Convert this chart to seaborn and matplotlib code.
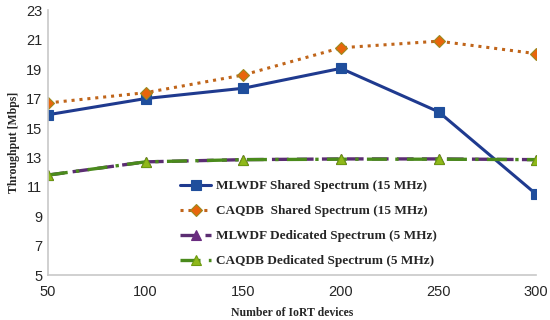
import numpy as np
import pandas as pd
import matplotlib
matplotlib.use("Agg")
import matplotlib.pyplot as plt
import seaborn as sns

devices = [50, 100, 150, 200, 250, 300]
mlwdf_shared = [15.9, 17.0, 17.7, 19.05, 16.1, 10.5]
caqdb_shared = [16.7, 17.4, 18.6, 20.45, 20.9, 20.05]
mlwdf_dedicated = [11.8, 12.7, 12.85, 12.9, 12.9, 12.85]
caqdb_dedicated = [11.8, 12.7, 12.85, 12.88, 12.88, 12.85]

labels = ["MLWDF Shared Spectrum (15 MHz)",
          "CAQDB  Shared Spectrum (15 MHz)",
          "MLWDF Dedicated Spectrum (5 MHz)",
          "CAQDB Dedicated Spectrum (5 MHz)"]

sns.set_theme(style="white")
plt.rcParams['font.family'] = ['Liberation Sans', 'DejaVu Sans']

fig, ax = plt.subplots(figsize=(5.5, 3.2), dpi=100)

styles = [
    dict(color="#1f3a8f", linestyle="-", lw=2.2, marker="s", ms=7,
         mfc="#1f4e9c", mec="#1f4e9c"),
    dict(color="#c0651a", linestyle=(0, (1, 1.6)), lw=2.2, marker="D", ms=6,
         mfc="#e8650c", mec="#9a8a20"),
    dict(color="#5b2d72", linestyle=(0, (5, 2.5)), lw=2.4, marker="^", ms=7,
         mfc="#6a2c80", mec="#6a2c80"),
    dict(color="#4a8a1c", linestyle=(0, (6, 2.5, 1, 2.5)), lw=2.4, marker="^", ms=7,
         mfc="#8fb81a", mec="#6d9a10"),
]
series = [mlwdf_shared, caqdb_shared, mlwdf_dedicated, caqdb_dedicated]

for vals, lab, st in zip(series, labels, styles):
    df = pd.DataFrame({"x": devices, "y": vals})
    sns.lineplot(data=df, x="x", y="y", ax=ax, label=lab,
                 color=st["color"], linestyle=st["linestyle"], linewidth=st["lw"],
                 marker=st["marker"], markersize=st["ms"],
                 markerfacecolor=st["mfc"], markeredgecolor=st["mec"],
                 markeredgewidth=0.8)

ax.set_xlim(50, 300)
ax.set_ylim(5, 23)
ax.set_xticks(devices)
ax.set_yticks(np.arange(5, 24, 2))
ax.tick_params(axis="y", labelsize=10.5, length=0, pad=4)
ax.tick_params(axis="x", labelsize=10.5, length=0, pad=7)
ax.margins(x=0)

for s in ["top", "right"]:
    ax.spines[s].set_visible(False)
for s in ["left", "bottom"]:
    ax.spines[s].set_color("#c8c8c8")
    ax.spines[s].set_linewidth(1.2)

ax.set_xlabel("Number of IoRT devices", fontsize=8.5, fontweight="bold",
              family=["Liberation Serif"], labelpad=6)
ax.set_ylabel("Throughput [Mbps]", fontsize=8.5, fontweight="bold",
              family=["Liberation Serif"], labelpad=4)

leg = ax.legend(loc="lower left", bbox_to_anchor=(0.254, 0.0), frameon=False,
                prop={"family": "Liberation Serif", "weight": "bold", "size": 9.5},
                handlelength=2.4, handletextpad=0.35, labelspacing=0.97,
                borderaxespad=0.2)

fig.subplots_adjust(left=0.087, right=0.975, bottom=0.14, top=0.968)
fig.savefig("out.png", dpi=100)
